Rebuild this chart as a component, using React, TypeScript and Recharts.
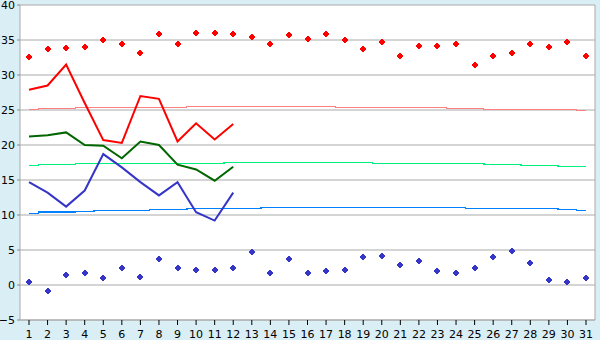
import {
  ComposedChart,
  Line,
  Scatter,
  XAxis,
  YAxis,
  CartesianGrid,
} from "recharts";

const days = [
  "1", "2", "3", "4", "5", "6", "7", "8", "9", "10", "11", "12", "13", "14", "15", "16",
  "17", "18", "19", "20", "21", "22", "23", "24", "25", "26", "27", "28", "29", "30", "31",
];

// record highs / lows per day (markers)
const recordMax = [
  32.6, 33.7, 33.8, 34.0, 35.0, 34.4, 33.2, 35.8, 34.4, 36.0, 36.0, 35.8, 35.4, 34.4, 35.7, 35.1,
  35.8, 35.0, 33.7, 34.7, 32.7, 34.2, 34.2, 34.4, 31.5, 32.7, 33.1, 34.5, 34.0, 34.7, 32.7,
];
const recordMin = [
  0.4, -0.8, 1.4, 1.7, 1.0, 2.5, 1.2, 3.7, 2.4, 2.2, 2.2, 2.5, 4.7, 1.7, 3.7, 1.7,
  2.0, 2.1, 4.0, 4.1, 2.8, 3.5, 2.0, 1.7, 2.5, 4.0, 4.8, 3.2, 0.7, 0.4, 1.0,
];

// this month so far (12 days)
const tMax = [27.9, 28.5, 31.5, 26.0, 20.7, 20.3, 27.0, 26.6, 20.5, 23.1, 20.8, 23.0];
const tMean = [21.2, 21.4, 21.8, 20.0, 19.9, 18.1, 20.5, 20.0, 17.2, 16.5, 14.9, 16.9];
const tMin = [14.7, 13.2, 11.2, 13.5, 18.7, 16.8, 14.7, 12.8, 14.7, 10.4, 9.2, 13.2];

// normals
const normMax = [
  25.1, 25.24, 25.24, 25.38, 25.38, 25.38, 25.38, 25.38, 25.38, 25.53, 25.53, 25.53, 25.53, 25.53, 25.53, 25.53,
  25.53, 25.38, 25.38, 25.38, 25.38, 25.38, 25.38, 25.24, 25.24, 25.1, 25.1, 25.1, 25.1, 25.1, 24.95,
];
const normMean = [
  17.05, 17.2, 17.2, 17.35, 17.35, 17.35, 17.35, 17.35, 17.35, 17.35, 17.35, 17.5, 17.5, 17.5, 17.5, 17.5,
  17.5, 17.5, 17.5, 17.35, 17.35, 17.35, 17.35, 17.35, 17.35, 17.2, 17.2, 17.1, 17.1, 16.95, 16.95,
];
const normMin = [
  10.25, 10.4, 10.4, 10.5, 10.65, 10.65, 10.65, 10.8, 10.8, 10.95, 10.95, 10.95, 10.95, 11.1, 11.1, 11.1,
  11.1, 11.1, 11.1, 11.1, 11.1, 11.1, 11.1, 11.1, 10.95, 10.95, 10.95, 10.95, 10.95, 10.8, 10.65,
];

const yTicks = [-5, 0, 5, 10, 15, 20, 25, 30, 35, 40];

const data = days.map((d, i) => ({
  day: d,
  recordMax: recordMax[i],
  recordMin: recordMin[i],
  tMax: tMax[i] ?? null,
  tMean: tMean[i] ?? null,
  tMin: tMin[i] ?? null,
  normMax: normMax[i],
  normMean: normMean[i],
  normMin: normMin[i],
}));

const FONT = "Verdana, 'DejaVu Sans', sans-serif";

// chunky pixel cross, like the original markers
function Cross(props: any) {
  const { cx, cy, fill } = props;
  if (cx == null || cy == null) return null;
  const x = Math.round(cx);
  const y = Math.round(cy);
  return (
    <path
      d={`M${x - 1},${y - 3}h2v1h1v1h1v2h-1v1h-1v1h-2v-1h-1v-1h-1v-2h1v-1h1z`}
      fill={fill}
      shapeRendering="crispEdges"
    />
  );
}

const fmtY = (v: number) => (v < 0 ? `\u2212${Math.abs(v)}` : String(v));

export default function App() {
  return (
    <div style={{ width: 600, height: 340, background: "#daeef5" }}>
      <style>{`body{margin:0}`}</style>
      <ComposedChart
        width={600}
        height={340}
        data={data}
        margin={{ top: 5, right: 4, bottom: 0, left: 0 }}
      >
        <CartesianGrid vertical={false} stroke="#aaaaaa" fill="#ffffff" />
        <XAxis
          dataKey="day"
          padding={{ left: 9, right: 9 }}
          interval={0}
          height={20}
          tickSize={5}
          tickMargin={5}
          tick={{ fontSize: 11, fill: "#000", fontFamily: FONT }}
          tickLine={{ stroke: "#000" }}
          axisLine={{ stroke: "#aaaaaa" }}
        />
        <YAxis
          domain={[-5, 40]}
          ticks={yTicks}
          interval={0}
          width={20}
          tickSize={3}
          tickMargin={2}
          tickFormatter={fmtY}
          tick={{ fontSize: 11, fill: "#000", fontFamily: FONT }}
          tickLine={{ stroke: "#888" }}
          axisLine={{ stroke: "#aaaaaa" }}
        />
        <YAxis
          yAxisId="r"
          orientation="right"
          width={1}
          tick={false}
          tickLine={false}
          axisLine={{ stroke: "#aaaaaa" }}
        />
        <Line type="step" dataKey="normMax" stroke="#ff8080" strokeWidth={1} dot={false} isAnimationActive={false} shapeRendering="crispEdges" />
        <Line type="step" dataKey="normMean" stroke="#00f080" strokeWidth={1.5} dot={false} isAnimationActive={false} shapeRendering="crispEdges" />
        <Line type="step" dataKey="normMin" stroke="#0080ff" strokeWidth={1.5} dot={false} isAnimationActive={false} shapeRendering="crispEdges" />
        <Line type="linear" dataKey="tMax" stroke="#ff0000" strokeWidth={2} dot={false} isAnimationActive={false} />
        <Line type="linear" dataKey="tMean" stroke="#006600" strokeWidth={2} dot={false} isAnimationActive={false} />
        <Line type="linear" dataKey="tMin" stroke="#3535c8" strokeWidth={2} dot={false} isAnimationActive={false} />
        <Scatter dataKey="recordMax" fill="#ff0000" shape={<Cross />} isAnimationActive={false} />
        <Scatter dataKey="recordMin" fill="#3535c8" shape={<Cross />} isAnimationActive={false} />
      </ComposedChart>
    </div>
  );
}
